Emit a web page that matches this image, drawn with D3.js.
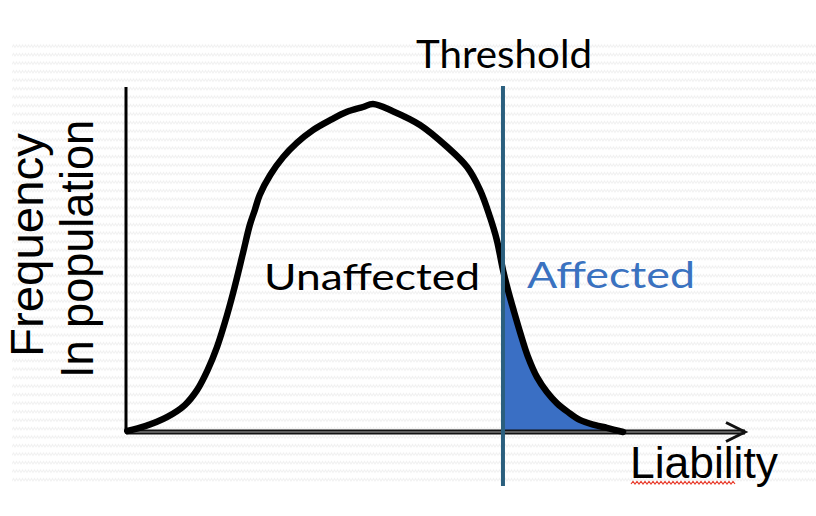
<!DOCTYPE html>
<html><head><meta charset="utf-8">
<script src="https://cdn.jsdelivr.net/npm/d3@7"></script>
<style>html,body{margin:0;padding:0;background:#fff;}svg{display:block;}</style>
</head><body>
<svg id="c" width="816" height="516"></svg>
<script>
// Liability values (x, arbitrary 0-100 units) and frequency (y, 0-100 units)
const liability = [0.2,3.1,6.6,9.5,11.5,13.2,14.7,16.0,17.3,18.9,20.0,20.8,21.6,23.3,25.4,27.6,30.2,33.0,35.7,38.3,39.9,43.1,47.5,51.9,55.1,57.2,58.8,59.9,60.9,61.7,62.7,63.7,64.9,66.4,68.0,69.6,71.4,73.3,75.8,77.7,80.3];
const frequency = [0.3,1.7,4.3,7.8,12.2,18.0,24.6,31.9,40.3,51.9,60.0,64.3,68.7,74.5,79.7,83.8,87.5,90.4,92.8,94.2,95.1,93.0,89.0,82.6,76.8,70.1,62.3,55.7,47.0,41.2,34.8,28.7,22.0,15.9,11.6,8.4,5.8,3.5,2.0,1.2,0];
const threshold = 60.9;
const labels = ["Threshold","Unaffected","Affected","Liability","Frequency","In population"];

const svg = d3.select("#c");

// faint zigzag background pattern
const defs = svg.append("defs");
const pat = defs.append("pattern").attr("id","zz").attr("patternUnits","userSpaceOnUse")
  .attr("width",6).attr("height",8.5);
pat.append("path").attr("d","M0,5 L1.5,2.5 L3,5 L4.5,2.5 L6,5")
  .attr("fill","none").attr("stroke","#f0f0f0").attr("stroke-width",1);
svg.append("rect").attr("x",12).attr("y",42).attr("width",804).attr("height",443).attr("fill","url(#zz)");

const x = d3.scaleLinear().domain([0,100]).range([126,745]);
const y = d3.scaleLinear().domain([0,100]).range([432,87]);

const pts = liability.map((v,i)=>({x:v,y:frequency[i]}));

// affected area
const area = d3.area().x(d=>x(d.x)).y0(y(0)).y1(d=>y(d.y)).curve(d3.curveCatmullRom.alpha(0.5));
svg.append("path").datum(pts.filter(d=>d.x>=threshold))
  .attr("d",area).attr("fill","#3a6fc4");

// y axis
svg.append("line").attr("x1",x(0)).attr("x2",x(0)).attr("y1",y(100)).attr("y2",y(0))
  .attr("stroke","#000").attr("stroke-width",3);

// x axis (double line) with open arrow
svg.append("line").attr("x1",x(0)).attr("x2",x(100)).attr("y1",y(0)).attr("y2",y(0))
  .attr("stroke","#111").attr("stroke-width",5);
svg.append("line").attr("x1",x(0)).attr("x2",x(100)-3).attr("y1",y(0)).attr("y2",y(0))
  .attr("stroke","#aaa").attr("stroke-width",1);
svg.append("path").attr("d",`M${x(100)-19},${y(0)-9.5} L${x(100)},${y(0)} L${x(100)-19},${y(0)+9.5}`)
  .attr("fill","none").attr("stroke","#111").attr("stroke-width",3);

// curve
const line = d3.line().x(d=>x(d.x)).y(d=>y(d.y)).curve(d3.curveCatmullRom.alpha(0.5));
svg.append("path").datum(pts).attr("d",line).attr("fill","none")
  .attr("stroke","#000").attr("stroke-width",6.5).attr("stroke-linejoin","round").attr("stroke-linecap","round");

// threshold line
svg.append("line").attr("x1",x(threshold)).attr("x2",x(threshold)).attr("y1",86).attr("y2",486)
  .attr("stroke","#2b5f7e").attr("stroke-width",4);

// texts
const gothic = "Lato, 'Open Sans', sans-serif";
svg.append("text").attr("x",416).attr("y",68).attr("font-family",gothic).attr("font-size",38)
  .attr("textLength",176).attr("lengthAdjust","spacingAndGlyphs").attr("fill","#000").text(labels[0]);
svg.append("text").attr("x",264).attr("y",290).attr("font-family",gothic).attr("font-size",37)
  .attr("textLength",216).attr("lengthAdjust","spacingAndGlyphs").attr("fill","#000").text(labels[1]);
svg.append("text").attr("x",527).attr("y",288).attr("font-family",gothic).attr("font-size",37)
  .attr("textLength",168).attr("lengthAdjust","spacingAndGlyphs").attr("fill","#3a72c0").text(labels[2]);

const arial = "'Liberation Sans', Arial, sans-serif";
svg.append("text").attr("x",630).attr("y",478).attr("font-family",arial).attr("font-size",45)
  .attr("textLength",148).attr("lengthAdjust","spacingAndGlyphs").attr("fill","#000").text(labels[3]);
// spell-check squiggle under Liability
let sq = "M631,484";
for (let xx=631; xx<735; xx+=4) sq += ` L${xx+2},481.5 L${xx+4},484`;
svg.append("path").attr("d",sq).attr("fill","none").attr("stroke","#e83a2a").attr("stroke-width",1.2);

svg.append("text").attr("transform","translate(43,357) rotate(-90)").attr("font-family",arial)
  .attr("font-size",46).attr("textLength",224).attr("lengthAdjust","spacingAndGlyphs").text(labels[4]);
svg.append("text").attr("transform","translate(93,378) rotate(-90)").attr("font-family",arial)
  .attr("font-size",46).attr("textLength",258).attr("lengthAdjust","spacingAndGlyphs").text(labels[5]);
</script>
</body></html>
